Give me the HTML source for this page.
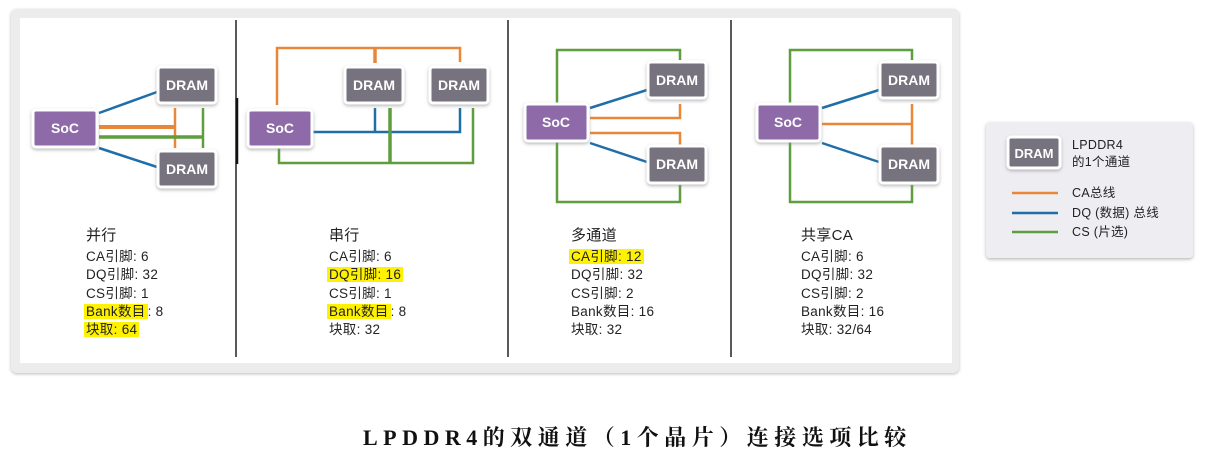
<!DOCTYPE html>
<html><head><meta charset="utf-8"><style>
body{margin:0;width:1205px;height:457px;background:#fff;position:relative;overflow:hidden;font-family:"Liberation Sans","Noto Sans CJK SC",sans-serif}
.abs{position:absolute}
.t{position:absolute;font-size:13.5px;color:#222;line-height:18.3px;letter-spacing:0.3px}
.t .h{font-size:15px;line-height:22px;display:block;margin-bottom:1px}
.y{background:#fff200;padding:0 2px;margin-left:-2px}
</style></head><body>
<div class="abs" style="left:11px;top:9px;width:948px;height:364px;background:#ececec;border-radius:6px;box-shadow:0 1px 3px #bbb"></div>
<div class="abs" style="left:20px;top:18px;width:932px;height:345px;background:#fff"></div>
<svg class="abs" style="left:0;top:0" width="1205" height="457">
<defs><filter id="s" x="-20%" y="-20%" width="140%" height="150%"><feDropShadow dx="0" dy="1.5" stdDeviation="1.5" flood-color="#888" flood-opacity="0.6"/></filter></defs>
<g stroke="#222" stroke-width="1.5"><line x1="236" y1="20" x2="236" y2="357"/><line x1="508" y1="20" x2="508" y2="357"/><line x1="731" y1="20" x2="731" y2="357"/></g>
<line x1="237" y1="98" x2="237" y2="164" stroke="#111" stroke-width="2.5"/>
<g fill="none" stroke-width="2.5">
<line x1="99" y1="113" x2="157" y2="92" stroke="#1f6ea8"/><line x1="99" y1="148" x2="157" y2="167" stroke="#1f6ea8"/>
<polyline points="99,127 175,127" stroke="#e8873a" stroke-width="4"/><line x1="175" y1="108" x2="175" y2="148" stroke="#e8873a"/>
<polyline points="99,137 203,137" stroke="#5e9e3e" stroke-width="3.5"/><line x1="203" y1="108" x2="203" y2="148" stroke="#5e9e3e"/>
<polyline points="277,105 277,48 460,48 460,62" stroke="#e8873a"/><line x1="375" y1="48" x2="375" y2="63" stroke="#e8873a" stroke-width="3.5"/>
<polyline points="312,132 460,132 460,108" stroke="#1f6ea8"/><line x1="375" y1="108" x2="375" y2="132" stroke="#1f6ea8"/>
<polyline points="279,148 279,163 473,163 473,108" stroke="#5e9e3e"/><line x1="390" y1="108" x2="390" y2="163" stroke="#5e9e3e" stroke-width="3.5"/>
<polyline points="557,103 557,50 680,50 680,60" stroke="#5e9e3e"/><polyline points="557,142 557,202 680,202 680,185" stroke="#5e9e3e"/>
<line x1="590" y1="108" x2="647" y2="90" stroke="#1f6ea8"/><line x1="590" y1="143" x2="647" y2="162" stroke="#1f6ea8"/>
<polyline points="590,118 680,118 680,104" stroke="#e8873a"/><polyline points="590,133 680,133 680,145" stroke="#e8873a"/>
<polyline points="790,103 790,50 912,50 912,60" stroke="#5e9e3e"/><polyline points="790,142 790,202 912,202 912,185" stroke="#5e9e3e"/>
<line x1="822" y1="108" x2="879" y2="90" stroke="#1f6ea8"/><line x1="822" y1="143" x2="879" y2="162" stroke="#1f6ea8"/>
<line x1="822" y1="124" x2="912" y2="124" stroke="#e8873a"/><line x1="912" y1="104" x2="912" y2="145" stroke="#e8873a"/>
</g>
<g font-family="Liberation Sans,sans-serif" font-weight="bold" font-size="14" fill="#fff" text-anchor="middle">
<g filter="url(#s)" stroke="#fff" stroke-width="3">
<rect x="33" y="110" width="64" height="37" rx="3" fill="#8e6aa8"/><rect x="158" y="67" width="58" height="36" rx="3" fill="#76737f"/><rect x="158" y="151" width="58" height="36" rx="3" fill="#76737f"/>
<rect x="248" y="110" width="64" height="37" rx="3" fill="#8e6aa8"/><rect x="345" y="67" width="58" height="36" rx="3" fill="#76737f"/><rect x="430" y="67" width="58" height="36" rx="3" fill="#76737f"/>
<rect x="525" y="104" width="63" height="37" rx="3" fill="#8e6aa8"/><rect x="648" y="62" width="58" height="36" rx="3" fill="#76737f"/><rect x="648" y="146" width="58" height="37" rx="3" fill="#76737f"/>
<rect x="757" y="104" width="63" height="37" rx="3" fill="#8e6aa8"/><rect x="880" y="62" width="58" height="36" rx="3" fill="#76737f"/><rect x="880" y="146" width="58" height="37" rx="3" fill="#76737f"/>
</g>
<text x="65" y="133">SoC</text><text x="187" y="90">DRAM</text><text x="187" y="174">DRAM</text>
<text x="280" y="133">SoC</text><text x="374" y="90">DRAM</text><text x="459" y="90">DRAM</text>
<text x="556" y="127">SoC</text><text x="677" y="85">DRAM</text><text x="677" y="169">DRAM</text>
<text x="788" y="127">SoC</text><text x="909" y="85">DRAM</text><text x="909" y="169">DRAM</text>
</g>
<rect x="986" y="122" width="207" height="136" rx="4" fill="#eeedf2" filter="url(#s)"/>
<rect x="1008" y="137" width="52" height="31" rx="3" fill="#76737f" stroke="#fff" stroke-width="3" filter="url(#s)"/>
<text x="1034" y="158" font-family="Liberation Sans,sans-serif" font-weight="bold" font-size="13" fill="#fff" text-anchor="middle">DRAM</text>
<line x1="1012" y1="193" x2="1058" y2="193" stroke="#e8873a" stroke-width="2.5"/>
<line x1="1012" y1="213" x2="1058" y2="213" stroke="#1f6ea8" stroke-width="2.5"/>
<line x1="1012" y1="232" x2="1058" y2="232" stroke="#5e9e3e" stroke-width="2.5"/>
</svg>
<div class="t" style="left:1072px;top:137px;font-size:12.5px;line-height:17px">LPDDR4<br>的1个通道</div>
<div class="t" style="left:1072px;top:184px;font-size:12.5px;line-height:19.5px">CA总线<br>DQ (数据) 总线<br>CS (片选)</div>
<div class="t" style="left:86px;top:225px"><span class="h">并行</span>CA引脚: 6<br>DQ引脚: 32<br>CS引脚: 1<br><span class="y">Bank数目</span>: 8<br><span class="y">块取: 64 </span></div>
<div class="t" style="left:329px;top:225px"><span class="h">串行</span>CA引脚: 6<br><span class="y">DQ引脚: 16 </span><br>CS引脚: 1<br><span class="y">Bank数目</span>: 8<br>块取: 32</div>
<div class="t" style="left:571px;top:225px"><span class="h">多通道</span><span class="y">CA引脚: 12 </span><br>DQ引脚: 32<br>CS引脚: 2<br>Bank数目: 16<br>块取: 32</div>
<div class="t" style="left:801px;top:225px"><span class="h">共享CA</span>CA引脚: 6<br>DQ引脚: 32<br>CS引脚: 2<br>Bank数目: 16<br>块取: 32/64</div>
<div class="abs" style="left:363px;top:421px;white-space:nowrap;font-family:'Liberation Serif','Noto Serif CJK SC',serif;font-weight:bold;font-size:22px;letter-spacing:5.5px;color:#111">LPDDR4的双通道（1个晶片）连接选项比较</div>
</body></html>
